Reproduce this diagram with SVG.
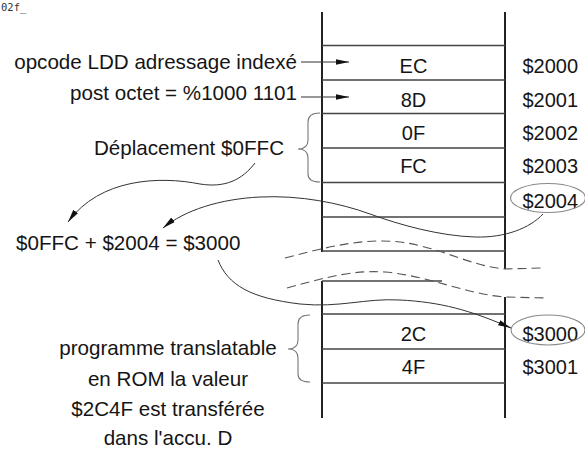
<svg xmlns="http://www.w3.org/2000/svg" width="585" height="450" viewBox="0 0 585 450">
  <style>
    .txt { font-family: "Liberation Sans", Arial, sans-serif; fill: #151515; }
    .cell { font-size: 20px; text-anchor: middle; }
    .addr { font-size: 20px; }
    .lbl { font-size: 20.6px; }
    .wall { stroke: #222; stroke-width: 2; fill: none; }
    .row { stroke: #444; stroke-width: 1.3; fill: none; }
    .brace { stroke: #777; stroke-width: 1.1; fill: none; }
    .ring { stroke: #888; stroke-width: 1.1; fill: none; }
    .cut { stroke: #555; stroke-width: 1.1; fill: none; stroke-dasharray: 9 5; }
    .link { stroke: #333; stroke-width: 1; fill: none; }
  </style>
  <defs>
    <marker id="head" markerUnits="userSpaceOnUse" markerWidth="14" markerHeight="8" refX="13" refY="4" orient="auto">
      <path d="M0,1.2 L13,4 L0,6.8 Z" fill="#111"/>
    </marker>
  </defs>

  <rect width="585" height="450" fill="#fff"/>

  <text x="1" y="11" font-family="DejaVu Sans Mono, monospace" font-size="10.5" fill="#333">02f_</text>

  <!-- memory map, upper block ($2000..$2004) -->
  <g id="memory-upper">
    <path class="wall" d="M322,12 V252 M505,12 V269"/>
    <path class="row" d="M322,45.5 H505 M322,80 H505 M322,113.5 H505 M322,148 H505 M322,182.5 H505 M322,217 H505 M322,251 H505"/>
    <text class="txt cell" x="413.5" y="72.5">EC</text>
    <text class="txt cell" x="413.5" y="107">8D</text>
    <text class="txt cell" x="413.5" y="140">0F</text>
    <text class="txt cell" x="413.5" y="173">FC</text>
    <text class="txt addr" x="522.5" y="72.5">$2000</text>
    <text class="txt addr" x="522.5" y="107">$2001</text>
    <text class="txt addr" x="522.5" y="140">$2002</text>
    <text class="txt addr" x="522.5" y="173">$2003</text>
    <text class="txt addr" x="522.5" y="208">$2004</text>
    <ellipse class="ring" cx="548" cy="198" rx="37.5" ry="14.5"/>
  </g>

  <!-- memory map, lower block ($3000..$3001) -->
  <g id="memory-lower">
    <path class="wall" d="M322,281 V418 M505,297 V418"/>
    <path class="row" d="M322,281 H442 M322,314 H505 M322,349 H505 M322,383 H505"/>
    <text class="txt cell" x="413.5" y="341">2C</text>
    <text class="txt cell" x="413.5" y="374">4F</text>
    <text class="txt addr" x="522.5" y="341">$3000</text>
    <text class="txt addr" x="522.5" y="374">$3001</text>
    <ellipse class="ring" cx="548" cy="330" rx="37" ry="15"/>
  </g>

  <!-- break in the address space -->
  <g id="break">
    <path class="cut" d="M285,258 C330,246 365,238 400,242 C440,247 470,266 505,269 L543,268"/>
    <path class="cut" d="M287,288 C330,276 355,270 385,272 C430,276 465,294 505,297 L547,298"/>
  </g>

  <g id="label-opcode">
    <text class="txt lbl" x="297" y="68.5" text-anchor="end">opcode LDD adressage indexé</text>
  </g>
  <g id="label-post">
    <text class="txt lbl" x="297" y="100" text-anchor="end">post octet = %1000 1101</text>
  </g>
  <g id="label-offset">
    <text class="txt lbl" x="284" y="155" text-anchor="end">Déplacement $0FFC</text>
    <path class="brace" d="M320,113 Q308,113 308,122 V140 Q308,149 298,149 Q308,149 308,158 V174 Q308,182 320,182"/>
  </g>
  <g id="label-sum">
    <text class="txt lbl" x="16" y="250">$0FFC + $2004 = $3000</text>
  </g>
  <g id="label-program">
    <text class="txt lbl" x="168" y="355" text-anchor="middle">programme translatable</text>
    <text class="txt lbl" x="168" y="385.5" text-anchor="middle">en ROM la valeur</text>
    <text class="txt lbl" x="168" y="415.5" text-anchor="middle">$2C4F est transférée</text>
    <text class="txt lbl" x="168" y="445" text-anchor="middle">dans l'accu. D</text>
    <path class="brace" d="M310,315 Q298,315 298,324 V340 Q298,349 288,349 Q298,349 298,358 V374 Q298,382 310,382"/>
  </g>

  <g id="connectors">
    <line class="link" x1="301" y1="62" x2="349" y2="62" marker-end="url(#head)"/>
    <line class="link" x1="301" y1="97" x2="349" y2="97" marker-end="url(#head)"/>
    <path class="link" d="M255,163 C242,180 225,188 200,184 C160,176 100,178 68,222" marker-end="url(#head)"/>
    <path class="link" d="M543,214 C530,228 505,238 475,237 C440,236 400,225 370,214 C340,203 300,195 260,197 C220,199 185,210 163,228" marker-end="url(#head)"/>
    <path class="link" d="M218,260 C228,285 250,298 300,304 C340,308 365,298 400,300 C440,302 470,310 511,328" marker-end="url(#head)"/>
  </g>
</svg>
